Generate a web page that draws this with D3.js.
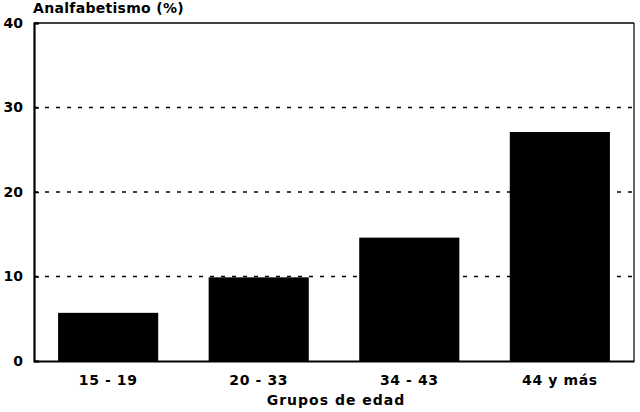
<!DOCTYPE html>
<html>
<head>
<meta charset="utf-8">
<script src="https://cdn.jsdelivr.net/npm/d3@7"></script>
<style>
  body { margin: 0; background: #fff; }
  svg { font-family: "DejaVu Sans", sans-serif; font-weight: bold; }
</style>
</head>
<body>
<svg width="640" height="412"></svg>
<script>
var grupos = ["15 - 19", "20 - 33", "34 - 43", "44 y más"];
var analfabetismo = [5.7, 9.9, 14.6, 27.1];
var yTicks = [0, 10, 20, 30, 40];

var svg = d3.select("svg");
var plotLeft = 34, plotRight = 634, plotTop = 23, plotBottom = 361;
var fontFam = "DejaVu Sans, sans-serif";

var x = d3.scaleBand()
  .domain(grupos)
  .range([plotLeft, plotRight])
  .paddingInner(0.335)
  .paddingOuter(0.16);

var y = d3.scaleLinear().domain([0, 40]).range([plotBottom, plotTop]);

// gridlines dashed (10, 20, 30)
svg.append("g")
  .selectAll("line")
  .data(yTicks.filter(function (d) { return d > 0 && d < 40; }))
  .enter().append("line")
  .attr("x1", plotLeft).attr("x2", plotRight)
  .attr("y1", function (d) { return y(d); })
  .attr("y2", function (d) { return y(d); })
  .attr("stroke", "#000")
  .attr("stroke-width", 1.4)
  .attr("stroke-dasharray", "4,7");

// frame: top & right
svg.append("line")
  .attr("x1", plotLeft).attr("x2", plotRight)
  .attr("y1", y(40)).attr("y2", y(40))
  .attr("stroke", "#000").attr("stroke-width", 1.6);
svg.append("line")
  .attr("x1", plotRight).attr("x2", plotRight)
  .attr("y1", y(40)).attr("y2", y(0))
  .attr("stroke", "#000").attr("stroke-width", 1.2);

// bars
svg.append("g")
  .selectAll("rect")
  .data(analfabetismo)
  .enter().append("rect")
  .attr("x", function (d, i) { return x(grupos[i]); })
  .attr("width", x.bandwidth())
  .attr("y", function (d) { return y(d); })
  .attr("height", function (d) { return y(0) - y(d); })
  .attr("fill", "#000");

// y axis
var yAxis = svg.append("g")
  .attr("transform", "translate(" + plotLeft + ",0)")
  .call(d3.axisLeft(y).tickValues(yTicks).tickSize(-5).tickPadding(11));
yAxis.select(".domain").attr("stroke-width", 2.2);
yAxis.selectAll(".tick line").attr("stroke-width", 1.5);
yAxis.selectAll("text").attr("font-size", 14).attr("font-weight", "bold").attr("fill", "#000")
  .attr("font-family", fontFam);

// x axis
var xAxis = svg.append("g")
  .attr("transform", "translate(0," + plotBottom + ")")
  .call(d3.axisBottom(x).tickSize(0).tickPadding(14));
xAxis.select(".domain").attr("stroke-width", 2.2);
xAxis.selectAll("text").attr("font-size", 14).attr("font-weight", "bold").attr("fill", "#000")
  .attr("font-family", fontFam).attr("letter-spacing", 0.6);

// titles
svg.append("text")
  .attr("x", 33).attr("y", 13)
  .attr("font-size", 14)
  .attr("letter-spacing", 0.3)
  .text("Analfabetismo (%)");

svg.append("text")
  .attr("x", 336).attr("y", 405)
  .attr("text-anchor", "middle")
  .attr("font-size", 14)
  .attr("letter-spacing", 1)
  .text("Grupos de edad");
</script>
</body>
</html>
